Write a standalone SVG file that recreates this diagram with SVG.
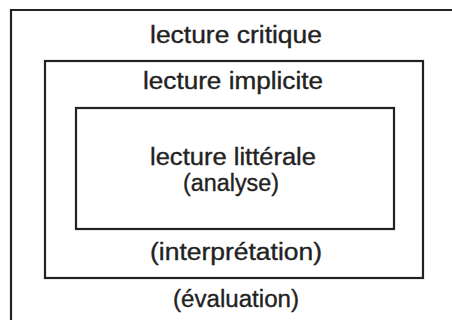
<svg xmlns="http://www.w3.org/2000/svg" width="452" height="320" viewBox="0 0 452 320">
<style>
.frame{fill:none;stroke:#222;stroke-width:2.2}
.t{font-family:"Liberation Sans",Arial,sans-serif;font-size:23.5px;fill:#222;stroke:#222;stroke-width:0.35;text-anchor:middle}
</style>
<rect width="452" height="320" fill="#fff"/>
<g id="critique">
<path class="frame" d="M11,320 V10 H452"/>
<text class="t" x="236" y="43" textLength="172" lengthAdjust="spacingAndGlyphs">lecture critique</text>
<text class="t" x="236" y="307" textLength="126" lengthAdjust="spacingAndGlyphs">(évaluation)</text>
</g>
<g id="implicite">
<rect class="frame" x="45" y="61" width="378" height="217"/>
<text class="t" x="233" y="89" textLength="180" lengthAdjust="spacingAndGlyphs">lecture implicite</text>
<text class="t" x="236" y="260" textLength="172" lengthAdjust="spacingAndGlyphs">(interprétation)</text>
</g>
<g id="litterale">
<rect class="frame" x="76" y="108" width="318" height="121"/>
<text class="t" x="233" y="165" textLength="166" lengthAdjust="spacingAndGlyphs">lecture littérale</text>
<text class="t" x="231" y="191" textLength="96" lengthAdjust="spacingAndGlyphs">(analyse)</text>
</g>
<g id="connectors"/>
</svg>
